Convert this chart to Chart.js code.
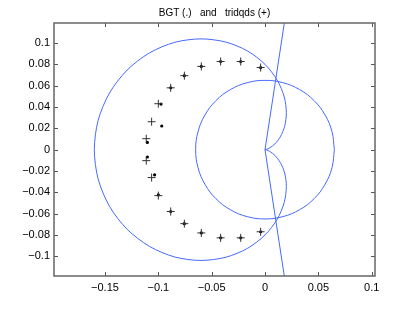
<!DOCTYPE html>
<html lang="en">
<head>
<meta charset="UTF-8">
<title>BGT and tridqds</title>
<script src="https://cdn.jsdelivr.net/npm/chart.js@4.4.1/dist/chart.umd.min.js"></script>
<style>
  body { margin: 0; background: #fff; }
</style>
</head>
<body>
<canvas id="chart" width="414" height="312"></canvas>
<script>
var title = 'BGT (.)   and   tridqds (+)';
// tridqds eigenvalues (+)
var plusX = [-0.0041, -0.0228, -0.0416, -0.0597, -0.0756, -0.0884, -0.1, -0.1063, -0.1113,
             -0.1113, -0.1063, -0.1, -0.0884, -0.0756, -0.0597, -0.0416, -0.0228, -0.0041];
var plusY = [0.077, 0.0827, 0.0827, 0.0781, 0.0694, 0.058, 0.0431, 0.0262, 0.0103,
             -0.0103, -0.0262, -0.0431, -0.058, -0.0694, -0.0781, -0.0827, -0.0827, -0.077];
// BGT eigenvalues (.)
var dotX = [-0.0041, -0.0228, -0.0416, -0.0597, -0.0756, -0.0884, -0.0975, -0.0968, -0.1103,
            -0.1103, -0.1035, -0.1, -0.0884, -0.0756, -0.0597, -0.0416, -0.0228, -0.0041];
var dotY = [0.077, 0.0827, 0.0827, 0.0781, 0.0694, 0.058, 0.0428, 0.0222, 0.0068,
            -0.0069, -0.0236, -0.0425, -0.058, -0.0694, -0.0781, -0.0827, -0.0827, -0.077];
// outer boundary (cardioid shape, cusp at origin)
var outerX = [0, 0.0012, 0.0045, 0.0093, 0.0143, 0.0184, 0.02, 0.018, 0.0115, 0,
              -0.0163, -0.0367, -0.06, -0.0845, -0.1082, -0.1293, -0.1458, -0.1564, -0.16,
              -0.1564, -0.1458, -0.1293, -0.1082, -0.0845, -0.06, -0.0367, -0.0163,
              0, 0.0115, 0.018, 0.02, 0.0184, 0.0143, 0.0093, 0.0045, 0.0012, 0];
var outerY = [0, 0.0002, 0.0017, 0.0054, 0.012, 0.0219, 0.0346, 0.0495, 0.0651, 0.08,
              0.0925, 0.1009, 0.1039, 0.1007, 0.0908, 0.0746, 0.0531, 0.0276, 0,
              -0.0276, -0.0531, -0.0746, -0.0908, -0.1007, -0.1039, -0.1009, -0.0925,
              -0.08, -0.0651, -0.0495, -0.0346, -0.0219, -0.012, -0.0054, -0.0017, -0.0002, 0];
// inner circle
var innerX = [0.065, 0.0628, 0.0563, 0.046, 0.0325, 0.0168, 0, -0.0168, -0.0325, -0.046, -0.0563, -0.0628,
              -0.065, -0.0628, -0.0563, -0.046, -0.0325, -0.0168, 0, 0.0168, 0.0325, 0.046, 0.0563, 0.0628, 0.065];
var innerY = [0, 0.0168, 0.0325, 0.046, 0.0563, 0.0628, 0.065, 0.0628, 0.0563, 0.046, 0.0325, 0.0168,
              0, -0.0168, -0.0325, -0.046, -0.0563, -0.0628, -0.065, -0.0628, -0.0563, -0.046, -0.0325, -0.0168, 0];
// two rays from the origin
var rayX = [0.0186, 0, 0.0186];
var rayY = [0.122, 0, -0.122];

var xTicks = [-0.15, -0.1, -0.05, 0, 0.05, 0.1];
var yTicks = [-0.1, -0.08, -0.06, -0.04, -0.02, 0, 0.02, 0.04, 0.06, 0.08, 0.1];

function pts(xs, ys) {
    var out = [];
    for (var i = 0; i < xs.length; i++) out.push({x: xs[i], y: ys[i]});
    return out;
}
function fmt(v) {
    return (v < 0 ? '\u2212' : '') + String(Math.abs(v));
}

var blue = 'rgb(70,105,255)';
var font = 'Liberation Sans, Arial, sans-serif';

// box, inward tick marks and title, matlab style
var boxPlugin = {
    id: 'box',
    afterDraw: function(chart) {
        var ctx = chart.ctx, a = chart.chartArea;
        var sx = chart.scales.x, sy = chart.scales.y;
        ctx.save();
        ctx.strokeStyle = '#555';
        ctx.lineWidth = 1;
        ctx.beginPath();
        xTicks.forEach(function(v) {
            var p = Math.round(sx.getPixelForValue(v)) + 0.5;
            ctx.moveTo(p, a.bottom); ctx.lineTo(p, a.bottom - 4);
            ctx.moveTo(p, a.top); ctx.lineTo(p, a.top + 4);
        });
        yTicks.forEach(function(v) {
            var p = Math.round(sy.getPixelForValue(v)) + 0.5;
            ctx.moveTo(a.left, p); ctx.lineTo(a.left + 4, p);
            ctx.moveTo(a.right, p); ctx.lineTo(a.right - 4, p);
        });
        ctx.stroke();
        ctx.lineWidth = 1.5;
        ctx.strokeStyle = '#666';
        ctx.strokeRect(a.left, a.top, a.right - a.left, a.bottom - a.top);

        ctx.fillStyle = '#000';
        ctx.font = '10px ' + font;
        ctx.textAlign = 'center';
        ctx.textBaseline = 'middle';
        ctx.fillText(title, (a.left + a.right) / 2, 13);
        ctx.restore();
    }
};

var ctx = document.getElementById('chart').getContext('2d');
var myChart = new Chart(ctx, {
    type: 'scatter',
    data: {
        datasets: [{
            label: 'outer',
            data: pts(outerX, outerY),
            showLine: true, pointRadius: 0, borderColor: blue, borderWidth: 1, tension: 0.3, fill: false
        }, {
            label: 'inner',
            data: pts(innerX, innerY),
            showLine: true, pointRadius: 0, borderColor: blue, borderWidth: 1, tension: 0.4, fill: false
        }, {
            label: 'rays',
            data: pts(rayX, rayY),
            showLine: true, pointRadius: 0, borderColor: blue, borderWidth: 1, tension: 0, fill: false
        }, {
            label: 'tridqds',
            data: pts(plusX, plusY),
            pointStyle: 'cross', pointRadius: 4, borderColor: '#333', borderWidth: 1
        }, {
            label: 'BGT',
            data: pts(dotX, dotY),
            pointStyle: 'circle', pointRadius: 1.6, borderWidth: 0, backgroundColor: '#000', borderColor: '#000'
        }]
    },
    options: {
        responsive: false,
        animation: false,
        layout: { padding: { left: 0, right: 39, top: 23, bottom: 0 } },
        plugins: {
            legend: { display: false },
            tooltip: { enabled: false },
            title: { display: false }
        },
        scales: {
            x: {
                type: 'linear', min: -0.1978, max: 0.1031,
                grid: { display: false, drawTicks: false },
                border: { display: false },
                afterBuildTicks: function(s) { s.ticks = xTicks.map(function(v) { return {value: v}; }); },
                afterFit: function(s) { s.height = 36; },
                ticks: {
                    autoSkip: false, maxRotation: 0, padding: 5, color: '#000',
                    font: { family: font, size: 11 },
                    callback: function(v) { return fmt(v); }
                }
            },
            y: {
                type: 'linear', min: -0.1185, max: 0.1188,
                grid: { display: false, drawTicks: false },
                border: { display: false },
                afterBuildTicks: function(s) { s.ticks = yTicks.map(function(v) { return {value: v}; }); },
                afterFit: function(s) { s.width = 54; },
                ticks: {
                    autoSkip: false, padding: 4, color: '#000',
                    font: { family: font, size: 11 },
                    callback: function(v) { return fmt(v); }
                }
            }
        }
    },
    plugins: [boxPlugin]
});
</script>
</body>
</html>
